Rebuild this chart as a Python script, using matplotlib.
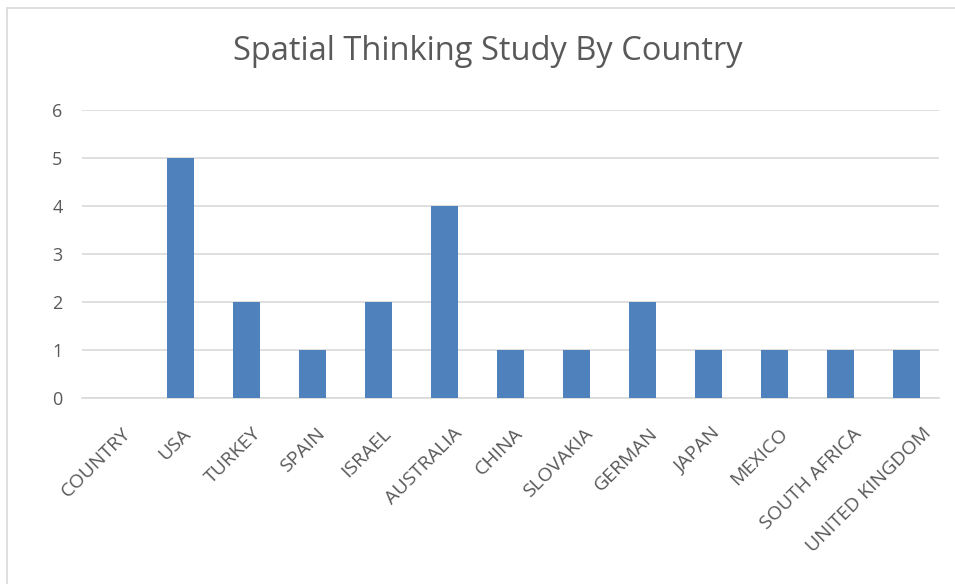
import matplotlib
matplotlib.use("Agg")
import matplotlib.pyplot as plt
from matplotlib.patches import Rectangle
from matplotlib.transforms import offset_copy

countries = ["COUNTRY", "USA", "TURKEY", "SPAIN", "ISRAEL", "AUSTRALIA", "CHINA",
             "SLOVAKIA", "GERMAN", "JAPAN", "MEXICO", "SOUTH AFRICA", "UNITED KINGDOM"]
studies = [0, 5, 2, 1, 2, 4, 1, 1, 2, 1, 1, 1, 1]
y_ticks = [0, 1, 2, 3, 4, 5, 6]

plt.rcParams["font.family"] = ["Open Sans", "DejaVu Sans"]
text_color = "#595959"
grid_color = "#D9D9D9"

fig = plt.figure(figsize=(9.55, 5.84), dpi=100)
ax = fig.add_axes([82 / 955, 1 - 398 / 584, (939 - 82) / 955, (398 - 110) / 584])

x = range(len(countries))
ax.bar(x, studies, width=0.41, color="#4F81BD", zorder=3)

ax.set_xlim(-0.5, len(countries) - 0.5)
ax.set_ylim(0, 6)
ax.set_yticks(y_ticks)
ax.yaxis.grid(True, color=grid_color, linewidth=1.2, zorder=0)
for side in ["top", "right", "left"]:
    ax.spines[side].set_visible(False)
ax.spines["bottom"].set_color(grid_color)
ax.spines["bottom"].set_linewidth(1.2)
ax.tick_params(axis="both", length=0, colors=text_color, labelsize=13)
ax.tick_params(axis="y", pad=14)

# rotated category labels; longer ones are nudged right a little
ax.set_xticks(list(x))
ax.set_xticklabels([])
renderer = fig.canvas.get_renderer()
base_tf = ax.get_xaxis_transform()
for i, name in enumerate(countries):
    t = ax.text(i, 0, name, transform=base_tf, rotation=45, rotation_mode="anchor",
                ha="right", va="top", fontsize=14, color=text_color)
    w = t.get_window_extent(renderer).width
    shift = (0.17 * w - 6) * 72 / fig.dpi
    t.set_transform(offset_copy(base_tf, fig=fig, x=shift, y=-19, units="points"))

fig.text(488 / 955, 1 - 51 / 584, "Spatial Thinking Study By Country",
         ha="center", va="center", fontsize=23.5, color=text_color)

# chart frame
fig.patches.append(Rectangle((7 / 955, -0.5), 2, 0.5 + (1 - 8 / 584),
                             transform=fig.transFigure, fill=False,
                             edgecolor=grid_color, linewidth=1.2))

fig.savefig("out.png", dpi=100)
